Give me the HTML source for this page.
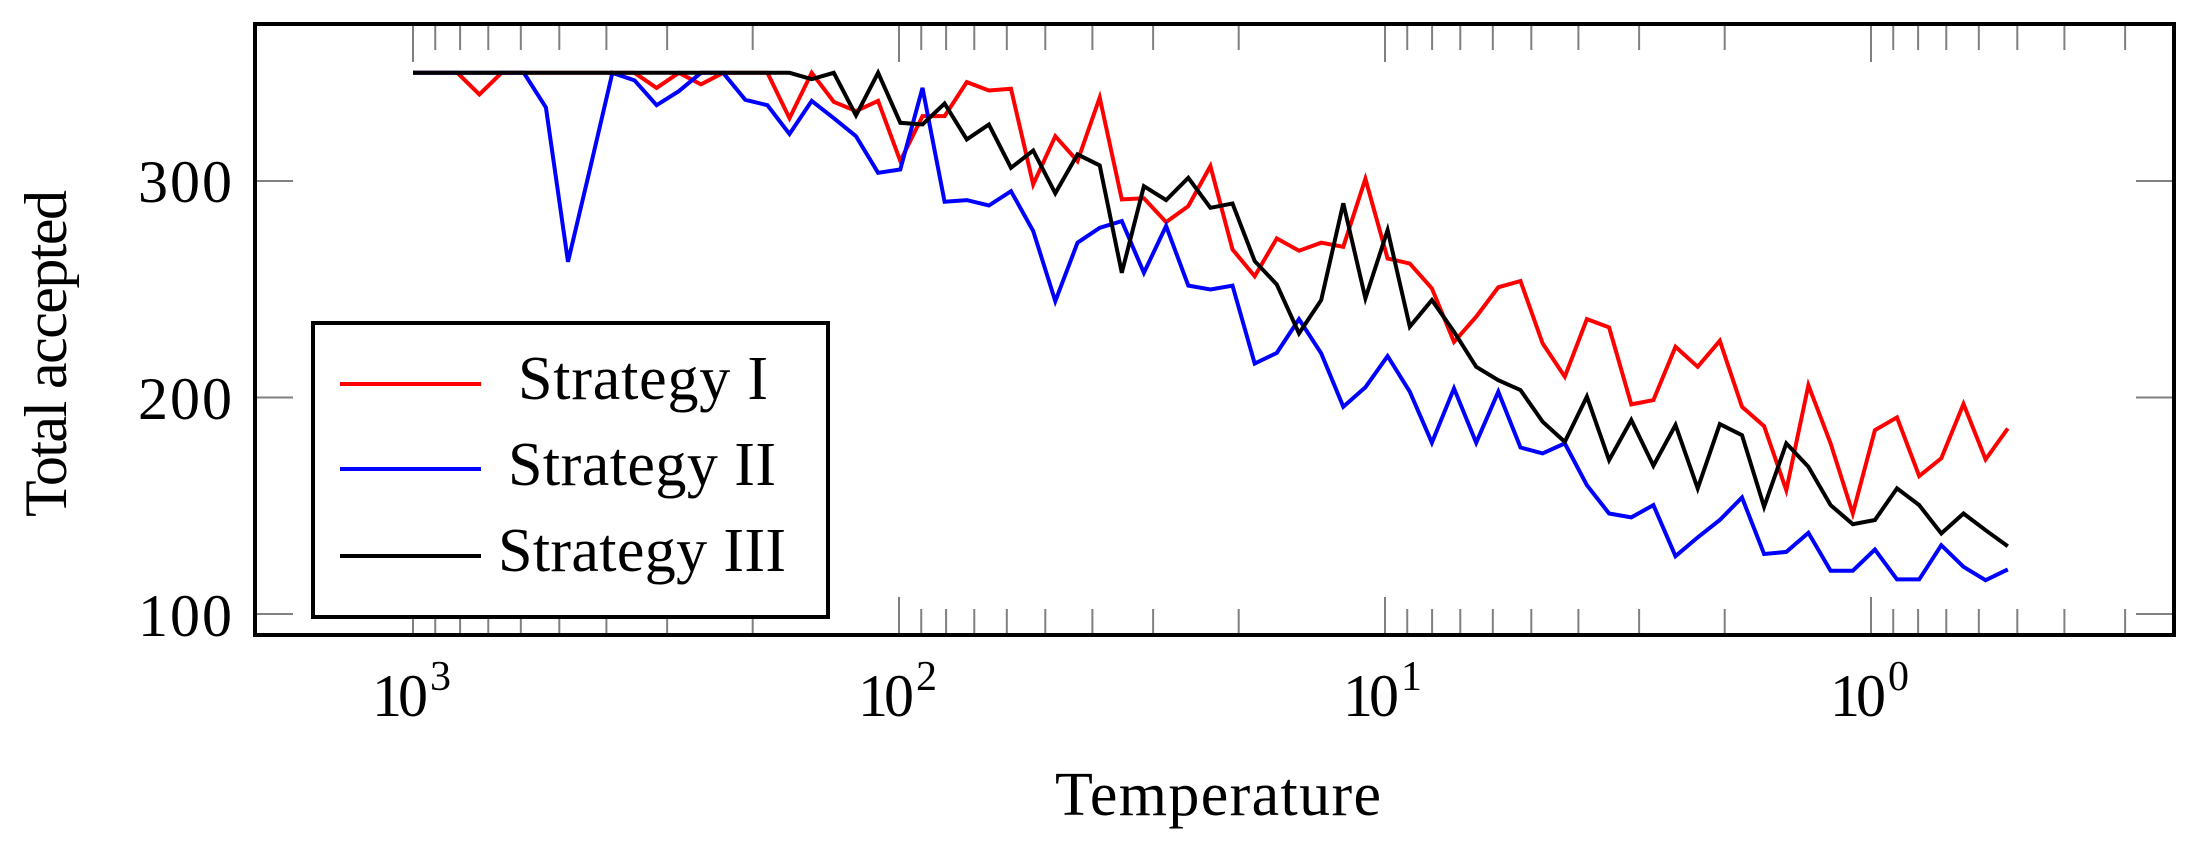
<!DOCTYPE html>
<html><head><meta charset="utf-8">
<style>
html,body{margin:0;padding:0;background:#fff;}
svg{display:block;}
text{font-family:"Liberation Serif",serif;fill:#000;}
</style></head>
<body>
<svg id="s" width="2194" height="844" viewBox="0 0 2194 844" xmlns="http://www.w3.org/2000/svg">
<rect x="0" y="0" width="2194" height="844" fill="#fff"/>
<g id="ticks" stroke="#808080" stroke-width="2"></g>
<g id="series" fill="none" stroke-width="4" stroke-linejoin="miter"></g>
<rect x="255" y="24" width="1919" height="611" fill="none" stroke="#000" stroke-width="4"/>
<text x="232" y="202" font-size="60" text-anchor="end" textLength="94">300</text>
<text x="232" y="419" font-size="60" text-anchor="end" textLength="94">200</text>
<text x="232" y="636" font-size="60" text-anchor="end" textLength="94">100</text>
<text x="372" y="716" font-size="60" textLength="56">10</text><text x="430" y="690" font-size="42">3</text>
<text x="858" y="716" font-size="60" textLength="56">10</text><text x="916" y="690" font-size="42">2</text>
<text x="1343" y="716" font-size="60" textLength="56">10</text><text x="1401" y="690" font-size="42">1</text>
<text x="1830" y="716" font-size="60" textLength="56">10</text><text x="1888" y="690" font-size="42">0</text>
<text x="1055" y="815" font-size="62" textLength="326">Temperature</text>
<text transform="translate(66,517) rotate(-90)" font-size="60" textLength="327">Total accepted</text>
<rect x="313" y="323" width="515" height="294" fill="#fff" stroke="#000" stroke-width="4"/>
<line x1="340" y1="384" x2="481" y2="384" stroke="#ff0000" stroke-width="4"/>
<line x1="340" y1="469" x2="481" y2="469" stroke="#0000ff" stroke-width="4"/>
<line x1="340" y1="556" x2="481" y2="556" stroke="#000" stroke-width="4"/>
<text x="518" y="399" font-size="62" textLength="250">Strategy I</text>
<text x="508" y="485" font-size="62" textLength="268">Strategy II</text>
<text x="498" y="571" font-size="62" textLength="288">Strategy III</text>
</svg>
<script>
(function(){
var NS="http://www.w3.org/2000/svg";
var tg=document.getElementById("ticks");
function X(T){return 413+(3-Math.log10(T))*486;}
function Y(v){return 614-(v-100)*2.165;}
function ln(x1,y1,x2,y2){var l=document.createElementNS(NS,"line");l.setAttribute("x1",x1);l.setAttribute("y1",y1);l.setAttribute("x2",x2);l.setAttribute("y2",y2);tg.appendChild(l);}
var vals=[1000];
[100,10,1].forEach(function(b){for(var m=9;m>=2;m--)vals.push(b*m);vals.push(b);});
for(var m=9;m>=3;m--)vals.push(0.1*m);
vals.forEach(function(T){
 var lg=Math.log10(T);var major=Math.abs(lg-Math.round(lg))<1e-9;
 var x=X(T);var L=major?36:24;
 ln(x,26,x,26+L);ln(x,633,x,633-L);
});
[100,200,300].forEach(function(v){var y=Y(v);ln(257,y,293,y);ln(2172,y,2136,y);});
var red=[350,350,350,340,350,350,350,350,350,350,350,343,350,344.6,350,350,350,329,350,336.6,332.3,
337,309.2,330,330,345.7,341.8,342.6,298.4,320.7,309.2,338.5,291.5,292,281,288.4,306.9,268.4,256,273.5,267.8,
271.5,269.6,301,264.2,261.9,250.4,225.7,237.3,250.9,253.8,225,209.6,236.2,232.4,196.8,198.8,
223.4,214.2,226.2,195.7,186.8,157.2,205.7,178.8,146.4,184.9,190.8,163.7,171.9,197,171.4,185.7];
var blue=[350,350,350,350,350,350,334,262.7,306,350,346.5,335,341.5,350,350,337.5,335,321.7,337,329,320.7,
303.8,305.3,343,290.4,291.2,288.7,295.3,276.9,244.5,271.5,278.4,281.5,257.6,279.2,251.7,249.9,251.7,215.7,220.6,236.2,
220.4,195.7,204.7,219.1,202.7,179.1,204.2,179.1,202.7,176.9,174.2,178.8,159.5,146.4,144.6,150.3,
126.7,135.4,143.4,153.8,127.7,128.7,137.5,120,120,129.8,116,116,131.8,121.8,115.6,120.6];
var black=[350,350,350,350,350,350,350,350,350,350,350,350,350,350,350,350,350,350,347,350,330.3,
350,326.9,326.1,335.8,319.2,326.1,306.1,314.1,294.3,312.3,307.2,257.6,297.6,291.2,301.5,287.6,289.6,263,252.2,229.6,
245,289.7,245.8,277.3,232.7,245,230.4,214.2,208,203.4,188.8,179.5,200.4,171.1,189.6,168.5,
187.3,158,187.7,182.6,149.5,178.8,168,150.3,141.5,143.4,158,150.3,137.2,146.4,138.7,131.3];
var sg=document.getElementById("series");
[[red,"#ff0000"],[blue,"#0000ff"],[black,"#000000"]].forEach(function(p){
 var d=p[0].map(function(v,k){return (k?"L":"M")+(413+22.15*k).toFixed(1)+","+Y(v).toFixed(1);}).join("");
 var e=document.createElementNS(NS,"path");e.setAttribute("d",d);e.setAttribute("stroke",p[1]);sg.appendChild(e);
});
})();
</script>
</body></html>
